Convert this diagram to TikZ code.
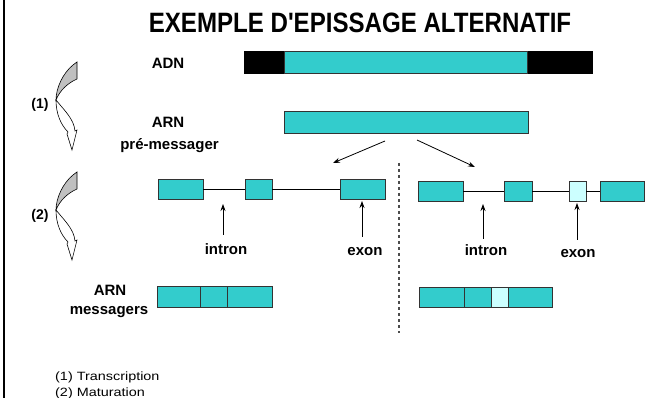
\documentclass[tikz,border=0pt]{standalone}
\usepackage{fontspec}
\setmainfont{Liberation Sans}[Ligatures=TeXOff]
\usetikzlibrary{arrows.meta}
\definecolor{tealc}{HTML}{33CCCC}
\definecolor{lightc}{HTML}{CCFFFF}
\definecolor{arrgray}{HTML}{C0C0C0}
\tikzset{
  exonbox/.style={draw=black!80, fill=tealc, line width=0.8pt, minimum height=20pt, inner sep=0pt, outer sep=0pt},
  lightbox/.style={exonbox, fill=lightc},
  lbl/.style={font=\fontsize{15}{18}\selectfont\bfseries, inner sep=0pt},
  foot/.style={font=\fontsize{12}{14}\selectfont, inner sep=0pt},
  conn/.style={draw=black, line width=0.8pt},
  arr/.style={-{Stealth[length=7pt,width=5pt]}, line width=0.8pt},
  curvegray/.style={fill=arrgray, draw=black, line width=0.6pt},
  curvewhite/.style={fill=white, draw=black, line width=0.6pt}
}
\begin{document}
\begin{tikzpicture}[x=1pt,y=-1pt]
\useasboundingbox (0,0) rectangle (659,398);
\fill[white] (0,0) rectangle (659,398);
\draw[line width=2pt] (4,0) -- (4,398);

% title
\node[font=\fontsize{28}{30}\selectfont\bfseries, inner sep=0pt] (title) at (360,23) {\scalebox{0.86}[1]{EXEMPLE D'EPISSAGE ALTERNATIF}};

% ADN
\node[lbl, anchor=base] (adnlbl) at (168,69) {ADN};
\node[fill=black, draw=black, minimum width=348pt, minimum height=22pt, inner sep=0pt] (adn) at (418,62) {};
\node[exonbox, minimum width=243pt, minimum height=22pt] (adnmid) at (405.5,62) {};

% pre-mRNA
\node[lbl, anchor=base] (arnlbl) at (168,128) {ARN};
\node[lbl, anchor=base] (prelbl) at (169.5,150) {pré-messager};
\node[exonbox, minimum width=244pt, minimum height=22pt] (pre) at (406,122) {};

% diagonal arrows
\coordinate (d1s) at (385,141);
\coordinate (d1e) at (333,163);
\coordinate (d2s) at (417,140);
\coordinate (d2e) at (475,167);
\draw[arr] (d1s) -- (d1e);
\draw[arr] (d2s) -- (d2e);

% dashed separator
\coordinate (dv1) at (399,163);
\coordinate (dv2) at (399,333);
\draw[black!70, line width=1.2pt, dash pattern=on 3pt off 3pt] (dv1) -- (dv2);

% left gene
\node[exonbox, minimum width=45pt] (l1) at (180.5,189) {};
\node[exonbox, minimum width=27pt] (l2) at (258.5,189) {};
\node[exonbox, minimum width=45pt] (l3) at (362.5,189) {};
\draw[conn] (l1) -- (l2);
\draw[conn] (l2) -- (l3);

% right gene
\node[exonbox, minimum width=45pt] (r1) at (440.5,191) {};
\node[exonbox, minimum width=28pt] (r2) at (518,191) {};
\node[lightbox, minimum width=17pt] (r3) at (577.5,191) {};
\node[exonbox, minimum width=44pt] (r4) at (622,191) {};
\draw[conn] (r1) -- (r2);
\draw[conn] (r2) -- (r3);
\draw[conn] (r3) -- (r4);

% labels with arrows
\node[lbl, anchor=base] (in1) at (226,255) {intron};
\node[lbl, anchor=base] (ex1) at (365,255.5) {exon};
\node[lbl, anchor=base] (in2) at (486,256) {intron};
\node[lbl, anchor=base] (ex2) at (578,258) {exon};
\coordinate (a1b) at (223,235); \coordinate (a1t) at (223,204);
\coordinate (a2b) at (362,237); \coordinate (a2t) at (362,201);
\coordinate (a3b) at (483,239); \coordinate (a3t) at (483,204);
\coordinate (a4b) at (577,240); \coordinate (a4t) at (577,203);
\draw[arr] (a1b) -- (a1t);
\draw[arr] (a2b) -- (a2t);
\draw[arr] (a3b) -- (a3t);
\draw[arr] (a4b) -- (a4t);

% mRNA left
\node[lbl, anchor=base] (arn2) at (110,295) {ARN};
\node[lbl, anchor=base] (mess) at (109,314) {messagers};
\node[exonbox, minimum width=43pt, minimum height=21pt] (m1) at (178.5,296.5) {};
\node[exonbox, minimum width=27pt, minimum height=21pt] (m2) at (213.5,296.5) {};
\node[exonbox, minimum width=45pt, minimum height=21pt] (m3) at (249.5,296.5) {};

% mRNA right
\node[exonbox, minimum width=45pt] (n1) at (441.5,297.5) {};
\node[exonbox, minimum width=27pt] (n2) at (477.5,297.5) {};
\node[lightbox, minimum width=17pt] (n3) at (499.5,297.5) {};
\node[exonbox, minimum width=44pt] (n4) at (530,297.5) {};

% step numbers
\node[font=\fontsize{14}{16}\selectfont\bfseries, inner sep=0pt] (p1) at (40,105) {(1)};
\node[font=\fontsize{14}{16}\selectfont\bfseries, inner sep=0pt] (p2) at (40,216) {(2)};

% curved arrows
\foreach \dy in {0,110}{
\begin{scope}[shift={(0,\dy)}]
\filldraw[curvegray] (73,65) -- (77,62) -- (77,79) .. controls (68,83) and (60,90) .. (56,100) .. controls (56,88) and (63,73) .. (73,65) -- cycle;
\filldraw[curvewhite] (56,100) .. controls (56,114) and (61,125) .. (68,132) -- (67,134) -- (72,150) -- (77,130) -- (75,131) .. controls (74,119) and (64,110) .. (56,100) -- cycle;
\end{scope}
}

% footnote
\node[foot, anchor=base west] (f1) at (55,380) {\scalebox{1.2}[1]{(1) Transcription}};
\node[foot, anchor=base west] (f2) at (55,396) {\scalebox{1.2}[1]{(2) Maturation}};
\end{tikzpicture}
\end{document}
